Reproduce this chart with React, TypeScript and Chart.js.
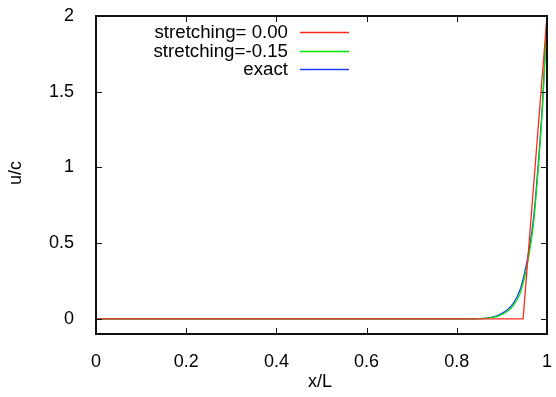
import React, { useEffect, useRef } from "react";
import { Chart, registerables } from "chart.js";

Chart.register(...registerables);

const xTicks = [0, 0.2, 0.4, 0.6, 0.8, 1];
const yTicks = [0, 0.5, 1, 1.5, 2];

const redX = [0, 0.947, 1.0];
const redY = [0, 0, 2.0];

const greenX = [0, 0.8, 0.85, 0.87, 0.89, 0.91, 0.925, 0.94, 0.95, 0.96, 0.97, 0.98, 0.99, 1.0];
const greenY = [0, 0, 0.001, 0.005, 0.016, 0.045, 0.085, 0.165, 0.27, 0.42, 0.63, 0.97, 1.4, 2.0];

const blueX = [0, 0.8, 0.85, 0.87, 0.89, 0.91, 0.925, 0.94, 0.95, 0.96, 0.97, 0.98, 0.99, 1.0];
const blueY = [0, 0, 0.002, 0.007, 0.022, 0.055, 0.1, 0.19, 0.3, 0.45, 0.66, 1.0, 1.42, 2.0];

const seriesLabels = ["stretching= 0.00", "stretching=-0.15", "exact"];
const seriesColors = ["#ff2a1a", "#00e600", "#2040ff"];

const FONT = '"Liberation Sans", Arial, Helvetica, sans-serif';
const FS = 18;

const toPts = (xs: number[], ys: number[]) => xs.map((x, i) => ({ x, y: ys[i] }));

export default function App() {
  const ref = useRef<HTMLCanvasElement>(null);
  useEffect(() => {
    if (!ref.current) return;
    const framePlugin = {
      id: "frame",
      afterDraw(chart: any) {
        const ctx = chart.ctx;
        const a = chart.chartArea;
        const xs = chart.scales.x;
        const ys = chart.scales.y;
        ctx.save();
        ctx.strokeStyle = "#111";
        ctx.lineWidth = 1;
        const tl = 6;
        ctx.beginPath();
        xTicks.forEach((v) => {
          const px = Math.round(xs.getPixelForValue(v)) + 0.5;
          ctx.moveTo(px, a.bottom);
          ctx.lineTo(px, a.bottom - tl);
          ctx.moveTo(px, a.top);
          ctx.lineTo(px, a.top + tl);
        });
        yTicks.forEach((v) => {
          const py = Math.round(ys.getPixelForValue(v)) + 0.5;
          ctx.moveTo(a.left, py);
          ctx.lineTo(a.left + tl, py);
          ctx.moveTo(a.right, py);
          ctx.lineTo(a.right - tl, py);
        });
        ctx.stroke();
        ctx.lineWidth = 2;
        ctx.strokeRect(a.left, a.top, a.right - a.left, a.bottom - a.top);

        // legend
        ctx.font = "18.7px " + FONT;
        ctx.textBaseline = "middle";
        ctx.textAlign = "right";
        const rows = [33, 51.5, 70];
        seriesLabels.forEach((lab, i) => {
          ctx.fillStyle = "#000";
          ctx.fillText(lab, 288, rows[i]);
          ctx.strokeStyle = seriesColors[i];
          ctx.lineWidth = 1.3;
          ctx.beginPath();
          ctx.moveTo(300, Math.round(rows[i] - 1) + 0.5);
          ctx.lineTo(349, Math.round(rows[i] - 1) + 0.5);
          ctx.stroke();
        });

        // axis titles
        ctx.font = FS + "px " + FONT;
        ctx.fillStyle = "#000";
        ctx.textAlign = "center";
        ctx.fillText("x/L", 320, 382);
        ctx.save();
        ctx.translate(16, 173);
        ctx.rotate(-Math.PI / 2);
        ctx.fillText("u/c", 0, 0);
        ctx.restore();
        ctx.restore();
      },
    };

    const chart = new Chart(ref.current, {
      type: "line",
      data: {
        datasets: [
          { label: seriesLabels[0], data: toPts(redX, redY), borderColor: seriesColors[0], cubicInterpolationMode: "default" },
          { label: seriesLabels[1], data: toPts(greenX, greenY), borderColor: seriesColors[1], cubicInterpolationMode: "monotone" },
          { label: seriesLabels[2], data: toPts(blueX, blueY), borderColor: seriesColors[2], cubicInterpolationMode: "monotone" },
        ].map((d: any) => ({
          ...d,
          borderWidth: 1.3,
          pointRadius: 0,
          fill: false,
          tension: d.cubicInterpolationMode === "monotone" ? 0.4 : 0,
        })),
      },
      options: {
        animation: false,
        responsive: false,
        maintainAspectRatio: false,
        layout: { padding: { top: 16, right: 9, left: 0, bottom: 0 } },
        plugins: { legend: { display: false }, tooltip: { enabled: false } },
        scales: {
          x: {
            type: "linear",
            min: 0,
            max: 1,
            grid: { display: false },
            border: { display: false },
            afterBuildTicks: (s: any) => {
              s.ticks = xTicks.map((v) => ({ value: v }));
            },
            afterFit: (s: any) => {
              s.height = 63;
              s.paddingLeft = 0;
              s.paddingRight = 0;
              s.paddingTop = 0;
              s.paddingBottom = 0;
            },
            ticks: {
              color: "#000",
              font: { family: FONT, size: FS },
              padding: 9,
              maxRotation: 0,
              autoSkip: false,
              callback: (v: any) => String(v),
            },
          },
          y: {
            type: "linear",
            min: -0.1,
            max: 2,
            grid: { display: false },
            border: { display: false },
            afterBuildTicks: (s: any) => {
              s.ticks = yTicks.map((v) => ({ value: v }));
            },
            afterFit: (s: any) => {
              s.width = 96;
              s.paddingLeft = 0;
              s.paddingRight = 0;
              s.paddingTop = 0;
              s.paddingBottom = 0;
            },
            ticks: {
              color: "#000",
              font: { family: FONT, size: FS },
              padding: 14,
              autoSkip: false,
              callback: (v: any) => String(v),
            },
          },
        },
      },
      plugins: [framePlugin],
    });
    return () => chart.destroy();
  }, []);

  return (
    <div style={{ position: "fixed", left: 0, top: 0, width: 556, height: 397, background: "#fff" }}>
      <canvas ref={ref} width={556} height={397} style={{ width: 556, height: 397, display: "block" }} />
    </div>
  );
}
